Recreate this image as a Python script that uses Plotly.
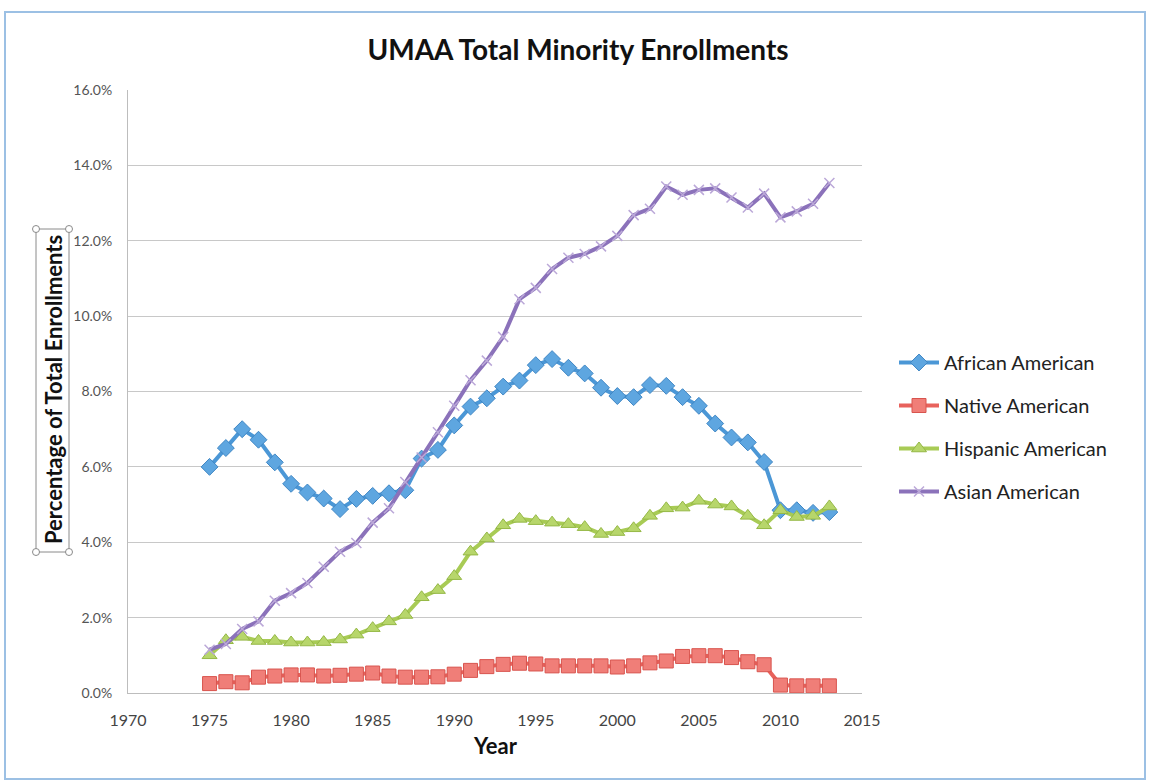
import plotly.graph_objects as go

years = list(range(1975, 2014))

african = [6.0, 6.5, 7.0, 6.72, 6.12, 5.55, 5.32, 5.16, 4.88, 5.15, 5.23, 5.3, 5.38,
           6.22, 6.45, 7.1, 7.6, 7.82, 8.13, 8.29, 8.7, 8.86, 8.63, 8.48, 8.1, 7.88,
           7.85, 8.17, 8.15, 7.85, 7.62, 7.15, 6.78, 6.65, 6.13, 4.85, 4.85, 4.78, 4.8]
native = [0.25, 0.3, 0.27, 0.42, 0.45, 0.48, 0.48, 0.45, 0.47, 0.5, 0.53, 0.45, 0.42,
          0.42, 0.43, 0.5, 0.6, 0.7, 0.76, 0.79, 0.77, 0.72, 0.72, 0.72, 0.72, 0.69,
          0.72, 0.8, 0.85, 0.97, 0.99, 0.99, 0.94, 0.83, 0.75, 0.21, 0.19, 0.19, 0.19]
hispanic = [1.0, 1.4, 1.49, 1.38, 1.38, 1.34, 1.34, 1.35, 1.42, 1.55, 1.72, 1.9, 2.07,
            2.54, 2.73, 3.1, 3.75, 4.1, 4.45, 4.62, 4.56, 4.52, 4.48, 4.4, 4.22, 4.27,
            4.37, 4.7, 4.9, 4.92, 5.1, 5.0, 4.95, 4.7, 4.45, 4.85, 4.67, 4.7, 4.95]
asian = [1.15, 1.3, 1.7, 1.9, 2.45, 2.65, 2.92, 3.35, 3.75, 3.98, 4.52, 4.9, 5.6,
         6.25, 6.92, 7.62, 8.3, 8.82, 9.45, 10.45, 10.75, 11.25, 11.55, 11.65, 11.85,
         12.13, 12.68, 12.85, 13.44, 13.22, 13.35, 13.39, 13.15, 12.88, 13.25, 12.62,
         12.78, 12.98, 13.53]

series_names = ["African American", "Native American", "Hispanic American", "Asian American"]

W, H = 1151, 783
L, R, T, B = 128, 862, 90, 693
FONT = "Lato, 'Open Sans', sans-serif"


def px(x):
    return (x - L) / (R - L)


def py(y):
    return (B - y) / (B - T)


fig = go.Figure()

styles = [
    (african, dict(color="#4B97D6", width=4),
     dict(symbol="diamond", size=13, color="#5EA6E0", line=dict(color="#3F86C4", width=1))),
    (native, dict(color="#E8625C", width=4),
     dict(symbol="square", size=14, color="#F07E78", line=dict(color="#D8544E", width=1))),
    (hispanic, dict(color="#A8CB55", width=4),
     dict(symbol="triangle-up", size=13, color="#B7D66B", line=dict(color="#95B846", width=1))),
    (asian, dict(color="#8B72BA", width=4),
     dict(symbol="x-thin", size=10, color="#BBA8D8", line=dict(color="#BBA8D8", width=1.5))),
]

for name, (vals, line, marker) in zip(series_names, styles):
    fig.add_trace(go.Scatter(
        x=years, y=vals, name=name, mode="lines+markers",
        line=line, marker=marker, legendgroup=name,
    ))

shapes = []
# outer window frame
shapes.append(dict(type="rect", xref="paper", yref="paper",
                   x0=px(5), x1=px(1145), y0=py(779), y1=py(12),
                   line=dict(color="#9CC0E4", width=2), layer="below"))
# selection box around y-axis title
bx0, bx1, by0, by1 = 36, 69, 229, 552
shapes.append(dict(type="rect", xref="paper", yref="paper",
                   x0=px(bx0), x1=px(bx1), y0=py(by1), y1=py(by0),
                   line=dict(color="#8A8A8A", width=1)))
for cx in (bx0, bx1):
    for cy in (by0, by1):
        shapes.append(dict(type="circle", xref="paper", yref="paper",
                           x0=px(cx - 3.5), x1=px(cx + 3.5), y0=py(cy + 3.5), y1=py(cy - 3.5),
                           line=dict(color="#8A8A8A", width=1), fillcolor="white"))

annotations = [
    dict(text="<b>Percentage of Total Enrollments</b>", xref="paper", yref="paper",
         x=px(53), y=py(390), textangle=-90, showarrow=False,
         font=dict(family=FONT, size=22, color="#111"), xanchor="center", yanchor="middle"),
    dict(text="<b>Year</b>", xref="paper", yref="paper",
         x=px(495), y=py(745), showarrow=False,
         font=dict(family=FONT, size=22, color="#111"), xanchor="center", yanchor="middle"),
]

fig.update_layout(
    width=W, height=H,
    margin=dict(l=L, r=W - R, t=T, b=H - B, pad=0),
    paper_bgcolor="white", plot_bgcolor="white",
    title=dict(text="<b>UMAA Total Minority Enrollments</b>", x=578 / W, xanchor="center",
               y=1 - 50 / H, yanchor="middle", xref="container", yref="container",
               font=dict(family=FONT, size=28, color="#111")),
    xaxis=dict(range=[1970, 2015], dtick=5, tick0=1970, showgrid=False, zeroline=False,
               showline=True, linecolor="#BDBDBD", linewidth=1,
               ticks="outside", ticklen=13, tickcolor="rgba(0,0,0,0)",
               tickfont=dict(family=FONT, size=16, color="#444")),
    yaxis=dict(range=[0, 16], dtick=2, tickformat=".1f", ticksuffix="%",
               showgrid=True, gridcolor="#C8C8C8", gridwidth=1, zeroline=False,
               showline=True, linecolor="#BDBDBD", linewidth=1,
               ticks="outside", ticklen=12, tickcolor="rgba(0,0,0,0)",
               tickfont=dict(family=FONT, size=14, color="#555")),
    legend=dict(x=px(894), xanchor="left", y=py(427), yanchor="middle",
                font=dict(family=FONT, size=20, color="#222"),
                tracegroupgap=14, bgcolor="rgba(0,0,0,0)", itemwidth=40),
    shapes=shapes,
    annotations=annotations,
    showlegend=True,
)

fig.write_html("out.html", config={"displayModeBar": False},
               post_script="document.body.style.margin='0';document.body.style.overflow='hidden';")
